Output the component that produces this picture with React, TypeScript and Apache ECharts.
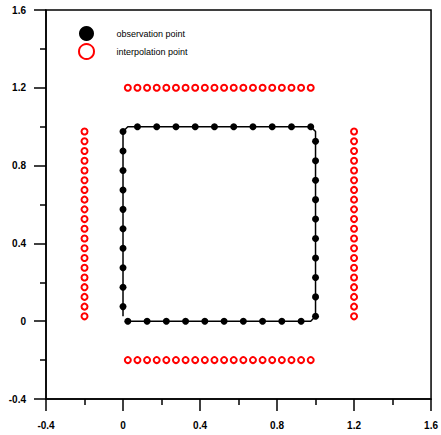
import React, { useEffect, useRef } from "react";
import * as echarts from "echarts";

// Observation points on the unit square boundary
const obsBottomX = [0.025, 0.125, 0.225, 0.325, 0.425, 0.525, 0.625, 0.725, 0.825, 0.925];
const obsRightY = [0.025, 0.125, 0.225, 0.325, 0.425, 0.525, 0.625, 0.725, 0.825, 0.925];
const obsTopX = [0.975, 0.875, 0.775, 0.675, 0.575, 0.475, 0.375, 0.275, 0.175, 0.075];
const obsLeftY = [0.975, 0.875, 0.775, 0.675, 0.575, 0.475, 0.375, 0.275, 0.175, 0.075];

// Boundary polyline vertices
const boundaryX = [0.025, 0.975, 1, 1, 0.975, 0.025, 0, 0];
const boundaryY = [0, 0, 0.025, 0.975, 1, 1, 0.975, 0.025];

// Interpolation points
const interpRowX = [
  0.025, 0.075, 0.125, 0.175, 0.225, 0.275, 0.325, 0.375, 0.425, 0.475,
  0.525, 0.575, 0.625, 0.675, 0.725, 0.775, 0.825, 0.875, 0.925, 0.975,
];
const interpColY = [
  0.025, 0.075, 0.125, 0.175, 0.225, 0.275, 0.325, 0.375, 0.425, 0.475,
  0.525, 0.575, 0.625, 0.675, 0.725, 0.775, 0.825, 0.875, 0.925, 0.975,
];
const interpRowsY = [1.2, -0.2];
const interpColsX = [-0.2, 1.2];

const seriesNames = ["observation point", "interpolation point"];

export default function App() {
  const ref = useRef<HTMLDivElement>(null);

  useEffect(() => {
    if (!ref.current) return;
    const chart = echarts.init(ref.current, undefined, { renderer: "svg" });

    const obsData: number[][] = [
      ...obsBottomX.map((x) => [x, 0]),
      ...obsRightY.map((y) => [1, y]),
      ...obsTopX.map((x) => [x, 1]),
      ...obsLeftY.map((y) => [0, y]),
    ];
    const boundaryData = boundaryX.map((x, i) => [x, boundaryY[i]]);
    const interpData: number[][] = [];
    interpRowsY.forEach((y) => interpRowX.forEach((x) => interpData.push([x, y])));
    interpColsX.forEach((x) => interpColY.forEach((y) => interpData.push([x, y])));

    const font = "'Liberation Sans', Arial, sans-serif";
    const axisCommon = {
      type: "value" as const,
      min: -0.4,
      max: 1.6,
      interval: 0.4,
      splitLine: { show: false },
      axisLine: { show: true, onZero: false, lineStyle: { color: "#000", width: 1.5 } },
      axisTick: { show: true, inside: false, length: 12, lineStyle: { color: "#000", width: 1.5 } },
      minorTick: { show: true, splitNumber: 2, length: 6, lineStyle: { color: "#000", width: 1.5 } },
      minorSplitLine: { show: false },
    };

    chart.setOption({
      animation: false,
      backgroundColor: "#fff",
      grid: {
        left: 46,
        right: 8,
        top: 10,
        bottom: 36,
        show: true,
        borderColor: "#000",
        borderWidth: 1.5,
        backgroundColor: "transparent",
      },
      legend: {
        left: 78,
        top: 26,
        padding: 0,
        orient: "vertical",
        itemWidth: 50,
        itemHeight: 15,
        itemGap: 2,
        textStyle: { fontFamily: font, fontSize: 9, color: "#000" },
        data: [
          { name: seriesNames[0], icon: "circle", itemStyle: { color: "#000", opacity: 1 } },
          {
            name: seriesNames[1],
            icon: "circle",
            itemStyle: { color: "#fff", borderColor: "#ff0000", borderWidth: 2, opacity: 1 },
          },
        ],
      },
      xAxis: {
        ...axisCommon,
        axisLabel: {
          margin: 21,
          color: "#000",
          fontWeight: "bold",
          fontSize: 10,
          fontFamily: font,
          showMinLabel: true,
          showMaxLabel: true,
        },
      },
      yAxis: {
        ...axisCommon,
        axisLabel: {
          margin: 20,
          color: "#000",
          fontWeight: "bold",
          fontSize: 10,
          fontFamily: font,
          showMinLabel: true,
          showMaxLabel: true,
        },
      },
      series: [
        {
          name: "boundary",
          type: "line",
          data: boundaryData,
          showSymbol: false,
          symbol: "none",
          lineStyle: { color: "#000", width: 1.5 },
          z: 1,
          silent: true,
        },
        {
          name: seriesNames[0],
          type: "scatter",
          data: obsData,
          symbol: "circle",
          symbolSize: 7,
          itemStyle: { color: "#000", opacity: 1 },
          z: 3,
        },
        {
          name: seriesNames[1],
          type: "scatter",
          data: interpData,
          symbol: "circle",
          symbolSize: 6,
          itemStyle: { color: "#fff", borderColor: "#ff0000", borderWidth: 2, opacity: 1 },
          z: 3,
        },
      ],
    });

    return () => chart.dispose();
  }, []);

  return (
    <div
      ref={ref}
      style={{ position: "fixed", left: 0, top: 0, width: 441, height: 435, background: "#fff" }}
    />
  );
}
